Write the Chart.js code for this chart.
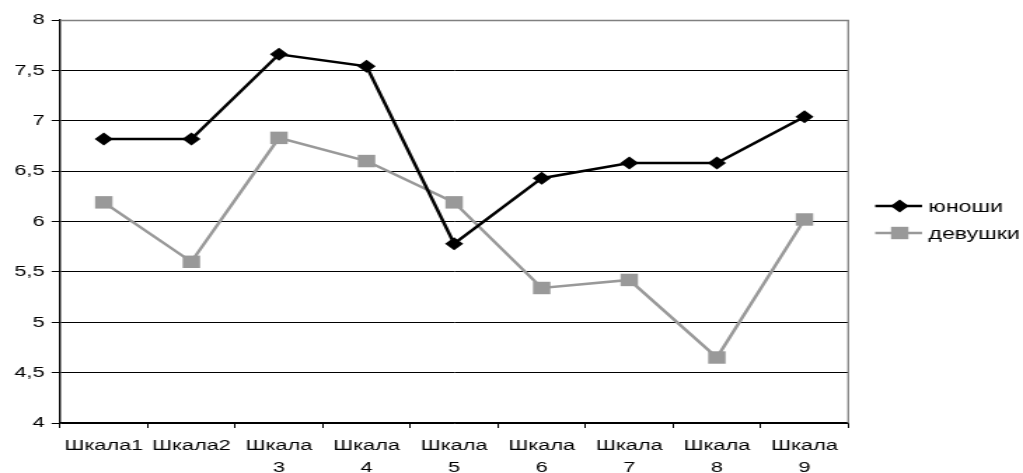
<!DOCTYPE html>
<html>
<head>
<meta charset="utf-8">
<script src="https://cdn.jsdelivr.net/npm/chart.js@4.4.1/dist/chart.umd.min.js"></script>
<style>
  html, body { margin: 0; padding: 0; background: #fff; overflow: hidden; }
  /* the original picture is stretched sideways, so the canvas is drawn narrow and widened by css */
  #grafico { display: block; width: 1023px !important; height: 473px !important; }
</style>
</head>
<body>
<canvas id="grafico" width="730" height="473"></canvas>
<script>
const categorias = ["Шкала1", "Шкала2", ["Шкала", "3"], ["Шкала", "4"], ["Шкала", "5"], ["Шкала", "6"], ["Шкала", "7"], ["Шкала", "8"], ["Шкала", "9"]];
const yunoshi = [6.82, 6.82, 7.66, 7.54, 5.78, 6.43, 6.58, 6.58, 7.04];
const devushki = [6.19, 5.6, 6.83, 6.6, 6.19, 5.34, 5.42, 4.65, 6.02];
const nombresSeries = ["юноши", "девушки"];
const ejeYMin = 4;
const ejeYMax = 8;
const ejeYPaso = 0.5;

const fuente = "'Liberation Sans', Arial, sans-serif";
const negro = "#000000";
const gris = "#999999";

//borde gris del area y leyenda dibujada a mano (linea + marcador como en excel)
const bordeYLeyenda = {
  id: "bordeYLeyenda",
  beforeDatasetsDraw(chart) {
    const { ctx, chartArea } = chart;
    ctx.save();
    ctx.strokeStyle = "#808080";
    ctx.lineWidth = 1.3;
    ctx.beginPath();
    ctx.moveTo(chartArea.left, chartArea.top + 0.5);
    ctx.lineTo(chartArea.right, chartArea.top + 0.5);
    ctx.lineTo(chartArea.right, chartArea.bottom);
    ctx.stroke();
    ctx.restore();
  },
  afterDraw(chart) {
    const { ctx } = chart;
    const items = [
      { texto: nombresSeries[0], color: negro, y: 206, tipo: "rombo" },
      { texto: nombresSeries[1], color: gris, y: 233, tipo: "cuadrado" },
    ];
    ctx.save();
    items.forEach((it) => {
      ctx.strokeStyle = it.color;
      ctx.fillStyle = it.color;
      ctx.lineWidth = 2.5;
      ctx.beginPath();
      ctx.moveTo(624.5, it.y);
      ctx.lineTo(658, it.y);
      ctx.stroke();
      const cx = 642;
      ctx.beginPath();
      if (it.tipo === "rombo") {
        ctx.moveTo(cx - 6.5, it.y);
        ctx.lineTo(cx, it.y - 6.5);
        ctx.lineTo(cx + 6.5, it.y);
        ctx.lineTo(cx, it.y + 6.5);
        ctx.closePath();
      } else {
        ctx.rect(cx - 6.2, it.y - 6.2, 12.4, 12.4);
      }
      ctx.fill();
      ctx.fillStyle = negro;
      ctx.font = "16.5px " + fuente;
      ctx.textBaseline = "middle";
      ctx.textAlign = "left";
      ctx.fillText(it.texto, 662.5, it.y + 1);
    });
    ctx.restore();
  },
};

const data = {
  labels: categorias,
  datasets: [
    {
      label: nombresSeries[0],
      data: yunoshi,
      borderColor: negro,
      backgroundColor: negro,
      borderWidth: 2.5,
      pointStyle: "rectRot",
      pointRadius: 6.5,
      pointBorderWidth: 0,
      pointBackgroundColor: negro,
      tension: 0,
    },
    {
      label: nombresSeries[1],
      data: devushki,
      borderColor: gris,
      backgroundColor: gris,
      borderWidth: 2.5,
      pointStyle: "rect",
      pointRadius: 8.8,
      pointBorderWidth: 0,
      pointBackgroundColor: gris,
      tension: 0,
    },
  ],
};

const config = {
  type: "line",
  data: data,
  options: {
    responsive: false,
    devicePixelRatio: 1,
    animation: false,
    layout: { padding: { top: 20, right: 124.7, bottom: 0, left: 0 } },
    plugins: {
      legend: { display: false },
      tooltip: { enabled: false },
    },
    scales: {
      x: {
        offset: true,
        grid: {
          offset: true,
          drawOnChartArea: false,
          color: negro,
          tickLength: 5,
        },
        border: { color: negro, width: 1.3 },
        ticks: {
          color: negro,
          font: { family: fuente, size: 15.5, lineHeight: 1.46 },
          padding: 6,
          maxRotation: 0,
          autoSkip: false,
        },
        afterFit: (escala) => {
          escala.height = 50;
        },
      },
      y: {
        min: ejeYMin,
        max: ejeYMax,
        grid: { color: negro, lineWidth: 1, tickLength: 6 },
        border: { color: negro, width: 1.4 },
        ticks: {
          stepSize: ejeYPaso,
          color: negro,
          padding: 5,
          font: { family: fuente, size: 15.5 },
          callback: (valor) => String(valor).replace(".", ","),
        },
        afterFit: (escala) => {
          escala.width = 42.8;
        },
      },
    },
  },
  plugins: [bordeYLeyenda],
};

const elementoGrafico = document.getElementById("grafico");
var grafico = new Chart(elementoGrafico, config);
</script>
</body>
</html>
